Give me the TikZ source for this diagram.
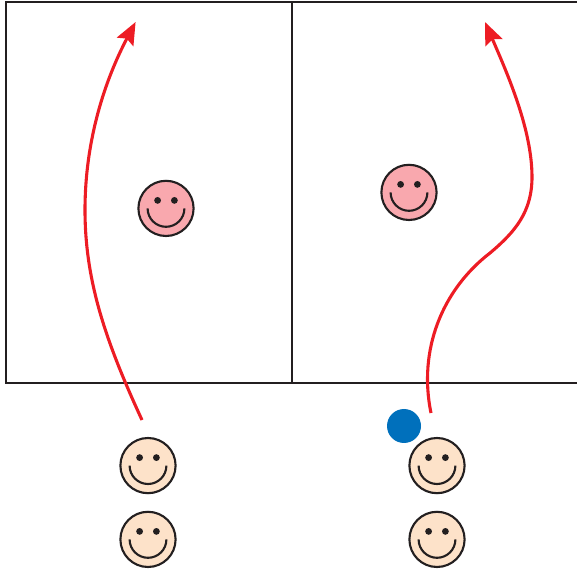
\documentclass[tikz,border=0pt]{standalone}
\usepackage{xcolor}
\usetikzlibrary{arrows.meta}
\definecolor{inkline}{HTML}{231F20}
\definecolor{runred}{HTML}{ED1C24}
\definecolor{ballblue}{HTML}{0070BC}
\definecolor{peach}{HTML}{FDE2C9}
\definecolor{rosepink}{HTML}{F9A8AE}
\newcommand{\faceinner}[1]{%
  \fill[inkline] ([shift={(-.21,.2)}]#1.center) circle (.085);
  \fill[inkline] ([shift={(.21,.2)}]#1.center) circle (.085);
  \draw[inkline, line width=1.5pt] ([shift={(-.46,0)}]#1.center) arc[start angle=180, end angle=360, radius=.46];
}

\begin{document}
\begin{tikzpicture}[
  face/.style={circle, draw=inkline, line width=1.5pt, minimum size=1.38cm, inner sep=0pt},
  court/.style={draw=inkline, line width=1.4pt},
  run/.style={draw=runred, line width=2.2pt, -{Stealth[length=5.6mm, width=4.6mm, inset=.9mm]}},
]
  \useasboundingbox (0,0) rectangle (14.425,14.25);

  % Court outline, open at the right edge
  \draw[court] (14.425,14.2) -- (.15,14.2) -- (.15,4.675) -- (14.425,4.675);
  \draw[court] (7.3,14.2) -- (7.3,4.675);

  % Players in the two queues
  \node[face, fill=peach] (frontL) at (3.7,2.61)   {};
  \node[face, fill=peach] (backL)  at (3.7,.765)    {};
  \node[face, fill=peach] (frontR) at (10.925,2.61) {};
  \node[face, fill=peach] (backR)  at (10.925,.765)  {};

  % Players on court
  \node[face, fill=rosepink] (midL) at (4.15,9.04)  {};
  \node[face, fill=rosepink] (midR) at (10.225,9.44) {};

  \foreach \who in {frontL,backL,frontR,backR,midL,midR} {
    \faceinner{\who}
  }

  % Ball
  \node[circle, fill=ballblue, minimum size=.85cm, inner sep=0pt] (ball) at (10.1,3.6) {};

  % Run paths
  \coordinate (startL) at (3.55,3.75);
  \coordinate (endL)   at (3.39,13.7);
  \coordinate (startR) at (10.775,3.925);
  \coordinate (endR)   at (12.125,13.7);

  \draw[run] (startL) .. controls (2.625,5.75) and (2.125,7.25) .. (2.125,9)
    .. controls (2.125,10.75) and (2.625,12.25) .. (endL);
  \draw[run] (startR) .. controls (10.45,5.5) and (11.05,7) .. (12.25,7.925)
    .. controls (12.875,8.45) and (13.3,8.95) .. (13.3,9.825)
    .. controls (13.3,11) and (12.7,12.375) .. (endR);
\end{tikzpicture}
\end{document}
